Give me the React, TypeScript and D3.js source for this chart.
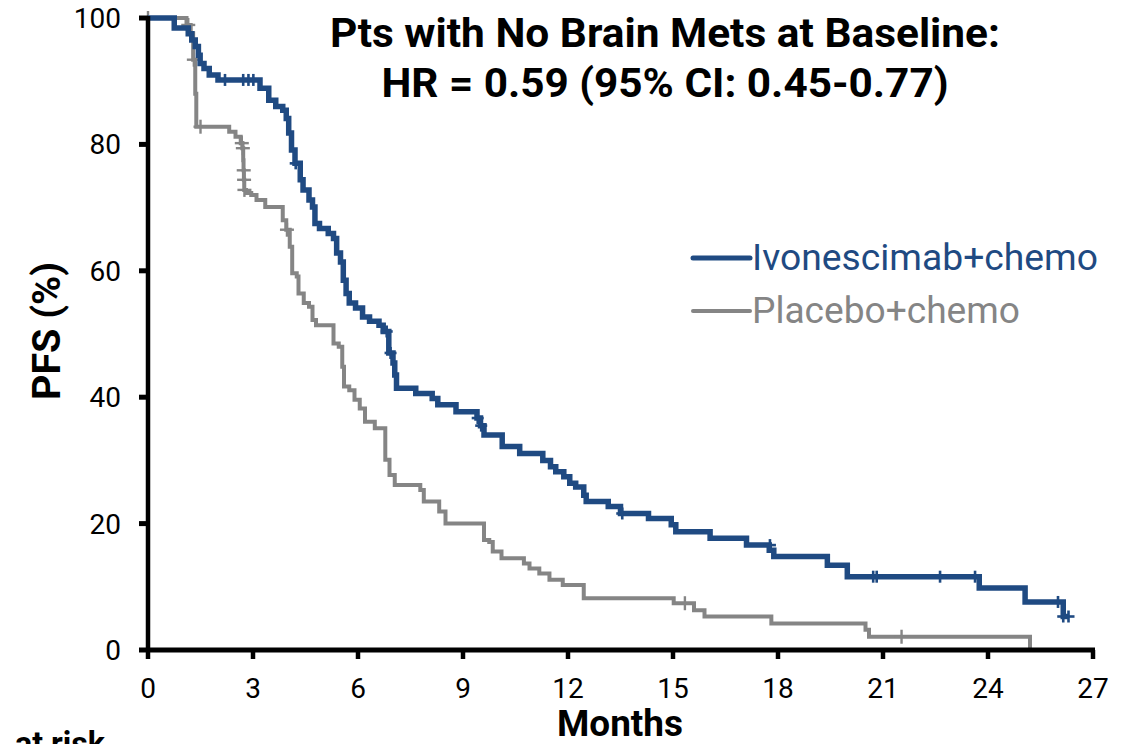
import React from "react";
import * as d3 from "d3";

// Ivonescimab+chemo: [month, PFS %] after each step
const ivoTimes = [0, 0.75, 1.15, 1.25, 1.35, 1.44, 1.49, 1.6, 1.75, 2.0, 3.2, 3.45, 3.65, 3.85, 3.95, 4.02, 4.1, 4.2, 4.35, 4.43, 4.6, 4.7, 4.77, 4.9, 5.15, 5.3, 5.39, 5.5, 5.58, 5.66, 5.75, 5.93, 6.13, 6.33, 6.6, 6.72, 6.88, 7.0, 7.05, 7.1, 7.65, 8.12, 8.28, 8.8, 9.4, 9.5, 9.6, 10.12, 10.62, 11.28, 11.5, 11.65, 11.88, 12.05, 12.22, 12.45, 12.52, 13.15, 13.5, 14.3, 14.95, 15.08, 16.06, 17.1, 17.75, 17.88, 19.41, 19.98, 23.75, 25.06, 26.15, 26.3];
const ivoValues = [100, 98.4, 97.5, 96.5, 95.5, 94.1, 92.8, 92.0, 91.0, 90.2, 88.9, 87.0, 86.0, 85.4, 84.1, 81.8, 79.1, 77.0, 74.4, 72.8, 71.2, 70.1, 67.5, 66.7, 65.9, 65.1, 62.8, 61.4, 58.5, 56.4, 54.9, 54.1, 52.7, 52.0, 51.4, 50.4, 47.0, 45.4, 43.5, 41.4, 40.6, 39.8, 38.8, 37.7, 36.7, 35.5, 34.0, 32.2, 31.1, 30.0, 29.0, 28.2, 27.4, 26.4, 25.8, 24.5, 23.5, 22.7, 21.6, 20.8, 19.8, 18.7, 17.7, 16.6, 15.8, 14.8, 13.4, 11.6, 9.8, 7.6, 5.3, 5.3];
const ivoCensorTimes = [2.2, 2.72, 2.87, 3.01, 4.22, 6.82, 6.93, 9.42, 9.52, 13.55, 17.77, 20.72, 20.82, 22.63, 23.63, 26.0, 26.15, 26.3];
const ivoCensorValues = [90.2, 90.2, 90.2, 90.2, 77.0, 50.4, 47.0, 36.7, 35.5, 21.6, 16.6, 11.6, 11.6, 11.6, 11.6, 7.6, 5.3, 5.3];

// Placebo+chemo
const pboTimes = [0, 1.1, 1.22, 1.29, 1.35, 1.38, 2.32, 2.5, 2.65, 2.7, 2.72, 2.73, 2.74, 2.75, 2.8, 2.95, 3.1, 3.35, 3.85, 3.95, 4.05, 4.12, 4.25, 4.3, 4.45, 4.6, 4.7, 4.8, 5.3, 5.45, 5.55, 5.6, 5.75, 5.9, 6.05, 6.2, 6.48, 6.78, 6.9, 7.05, 7.78, 7.88, 8.32, 8.5, 9.6, 9.75, 9.85, 10.1, 10.74, 10.9, 11.18, 11.47, 11.85, 12.45, 15.02, 15.6, 15.9, 17.81, 20.5, 20.6, 25.2];
const pboValues = [100, 98.9, 97.6, 93.4, 88.0, 82.8, 82.0, 81.2, 80.2, 79.4, 77.5, 75.9, 74.4, 72.8, 72.3, 72.0, 71.2, 70.1, 68.0, 66.5, 63.8, 59.6, 59.1, 56.4, 54.9, 54.3, 52.2, 51.4, 48.5, 48.0, 44.8, 41.7, 41.1, 39.6, 38.2, 36.1, 35.1, 30.1, 27.7, 26.1, 25.3, 23.5, 21.9, 20.0, 17.4, 17.1, 15.6, 14.5, 13.7, 12.9, 12.1, 11.1, 10.3, 8.2, 7.4, 6.3, 5.3, 4.2, 3.2, 2.1, 0];
const pboCensorTimes = [0, 1.15, 1.31, 1.5, 2.68, 2.71, 2.735, 2.745, 2.755, 3.97, 15.34, 21.53];
const pboCensorValues = [100, 98.9, 93.4, 82.8, 80.2, 79.4, 75.9, 74.4, 72.8, 66.5, 7.4, 2.1];

const xTicks = [0, 3, 6, 9, 12, 15, 18, 21, 24, 27];
const yTicks = [0, 20, 40, 60, 80, 100];
const titleLines = ["Pts with No Brain Mets at Baseline:", "HR = 0.59 (95% CI: 0.45-0.77)"];
const seriesNames = ["Ivonescimab+chemo", "Placebo+chemo"];

const BLUE = "#1f4a82";
const GREY = "#858585";

export default function App() {
  const x = d3.scaleLinear().domain([0, 27]).range([148, 1093]);
  const y = d3.scaleLinear().domain([0, 100]).range([650, 18]);
  const line = d3
    .line<[number, number]>()
    .x((d) => x(d[0]))
    .y((d) => y(d[1]))
    .curve(d3.curveStepAfter);

  const ivo: [number, number][] = ivoTimes.map((t, i) => [t, ivoValues[i]]);
  const pbo: [number, number][] = pboTimes.map((t, i) => [t, pboValues[i]]);

  const censor = (ts: number[], vs: number[], color: string, w: number, arm: number) =>
    ts.map((t, i) => {
      const cx = x(t);
      const cy = y(vs[i]);
      return (
        <g key={i} stroke={color} strokeWidth={w}>
          <line x1={cx - arm} x2={cx + arm} y1={cy} y2={cy} />
          <line x1={cx} x2={cx} y1={cy - arm} y2={cy + arm} />
        </g>
      );
    });

  const font = "Roboto, 'Noto Sans', sans-serif";
  const titleWidths = [670, 567];

  return (
    <svg
      width={1137}
      height={744}
      style={{ position: "absolute", left: 0, top: 0, background: "#fff" }}
      fontFamily={font}
    >
      <rect x={0} y={0} width={1137} height={744} fill="#fff" />
      {/* curves */}
      <path d={line(pbo) || ""} fill="none" stroke={GREY} strokeWidth={4} />
      {censor(pboCensorTimes, pboCensorValues, GREY, 2.4, 7)}
      <path d={line(ivo) || ""} fill="none" stroke={BLUE} strokeWidth={5.5} />
      {censor(ivoCensorTimes, ivoCensorValues, BLUE, 2.6, 6)}

      {/* axes */}
      <line x1={148} x2={148} y1={y(100) - 2} y2={652} stroke="#000" strokeWidth={4.5} />
      <line x1={146} x2={x(27) + 2} y1={650} y2={650} stroke="#000" strokeWidth={5} />
      {yTicks.map((v) => (
        <g key={v}>
          <line x1={139} x2={148} y1={y(v)} y2={y(v)} stroke="#000" strokeWidth={5} />
          <text x={121} y={y(v) + 10} textAnchor="end" fontSize={28} fill="#000">
            {v}
          </text>
        </g>
      ))}
      {xTicks.map((v) => (
        <g key={v}>
          <line x1={x(v)} x2={x(v)} y1={650} y2={659} stroke="#000" strokeWidth={4.5} />
          <text x={x(v)} y={698} textAnchor="middle" fontSize={28} fill="#000">
            {v}
          </text>
        </g>
      ))}

      {/* axis titles */}
      <text x={620} y={736} textAnchor="middle" fontSize={37} fontWeight="bold" fill="#000"
        textLength={126} lengthAdjust="spacingAndGlyphs">
        Months
      </text>
      <text
        transform={`translate(60,331) rotate(-90)`}
        textAnchor="middle"
        fontSize={38}
        fontWeight="bold"
        fill="#000"
        textLength={138}
        lengthAdjust="spacingAndGlyphs"
      >
        PFS (%)
      </text>
      <text x={15} y={755} fontSize={33} fontWeight="bold" fill="#000"
        textLength={90} lengthAdjust="spacingAndGlyphs">
        at risk
      </text>

      {/* title */}
      {titleLines.map((t, i) => (
        <text key={i} x={665} y={47 + i * 50} textAnchor="middle" fontSize={40} fontWeight="bold" fill="#000"
          textLength={titleWidths[i]} lengthAdjust="spacingAndGlyphs">
          {t}
        </text>
      ))}

      {/* legend */}
      <line x1={693} x2={750} y1={258} y2={258} stroke={BLUE} strokeWidth={5} strokeLinecap="round" />
      <text x={752} y={270} fontSize={37} fill={BLUE} textLength={346} lengthAdjust="spacingAndGlyphs">
        {seriesNames[0]}
      </text>
      <line x1={693} x2={750} y1={311} y2={311} stroke={GREY} strokeWidth={4} strokeLinecap="round" />
      <text x={752} y={323} fontSize={37} fill={GREY} textLength={268} lengthAdjust="spacingAndGlyphs">
        {seriesNames[1]}
      </text>
    </svg>
  );
}
